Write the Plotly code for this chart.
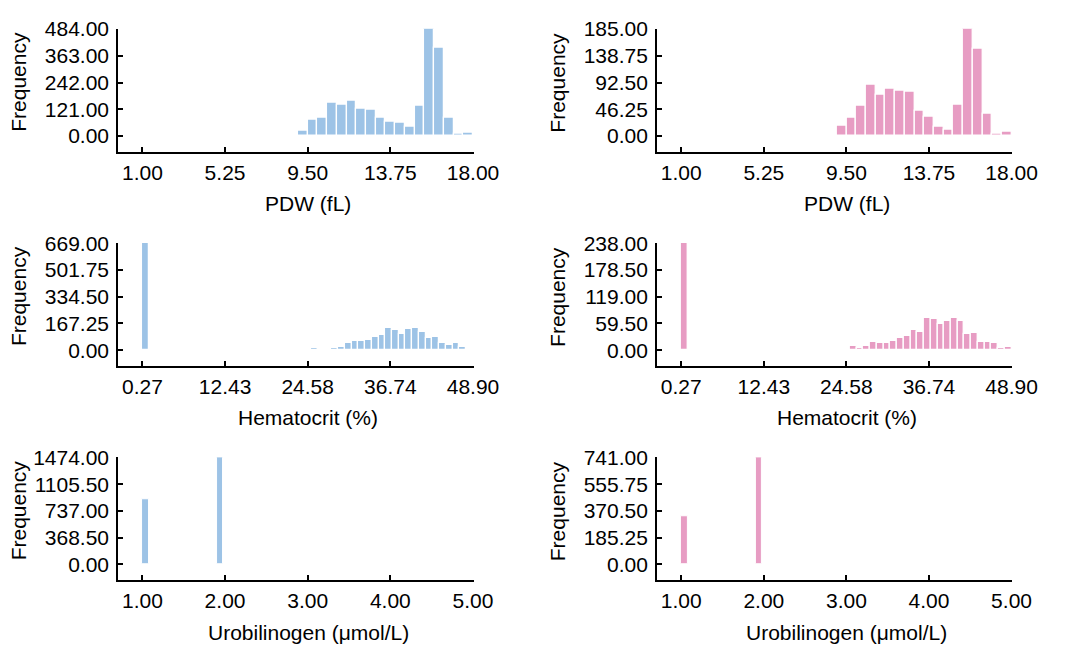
import numpy as np
import plotly.graph_objects as go

W, H = 1067, 645
BLUE = "#9DC3E6"
PINK = "#E79CC3"

# ---------------- data ----------------
# PDW (fL): bins of 0.5 starting at 8.5
pdw_bin_left = [8.5, 9.0, 9.5, 10.0, 10.5, 11.0, 11.5, 12.0, 12.5, 13.0,
                13.5, 14.0, 14.5, 15.0, 15.5, 16.0, 16.5, 17.0, 17.5]
pdw_bin_width = 0.5
pdw_blue = [0, 24, 74, 84, 149, 142, 159, 124, 117, 84, 63, 60, 41, 136, 484, 400, 84, 9, 13]
pdw_pink = [1, 17, 31, 52, 88, 71, 82, 79, 77, 43, 34, 16, 11, 54, 185, 151, 39, 3, 7]
pdw_ticks = [1.00, 5.25, 9.50, 13.75, 18.00]
pdw_ticktext = ["1.00", "5.25", "9.50", "13.75", "18.00"]

# Hematocrit (%): 49 bins from 0.27 to 48.90
hct_min, hct_max, hct_nbins = 0.27, 48.90, 49
hct_blue = [669] + [0] * 24 + [12, 6, 6, 12, 20, 42, 56, 60, 66, 84, 98, 139,
                                127, 104, 133, 137, 112, 78, 82, 44, 30, 42, 18, 4]
hct_pink = [238] + [0] * 24 + [9, 4, 10, 19, 15, 15, 21, 27, 32, 44, 41, 71,
                                69, 59, 64, 71, 66, 36, 39, 19, 19, 16, 6, 8]
hct_ticks = [0.27, 12.4275, 24.585, 36.7425, 48.90]
hct_ticktext = ["0.27", "12.43", "24.58", "36.74", "48.90"]

# Urobilinogen (umol/L): 49 bins from 1 to 5, only two populated
uro_min, uro_max, uro_nbins = 1.0, 5.0, 49
uro_bin_index = [0, 11]
uro_blue = [903, 1474]
uro_pink = [336, 741]
uro_ticks = [1.00, 2.00, 3.00, 4.00, 5.00]
uro_ticktext = ["1.00", "2.00", "3.00", "4.00", "5.00"]

y_ticks_text = {
    "pdw_blue": ["0.00", "121.00", "242.00", "363.00", "484.00"],
    "pdw_pink": ["0.00", "46.25", "92.50", "138.75", "185.00"],
    "hct_blue": ["0.00", "167.25", "334.50", "501.75", "669.00"],
    "hct_pink": ["0.00", "59.50", "119.00", "178.50", "238.00"],
    "uro_blue": ["0.00", "368.50", "737.00", "1105.50", "1474.00"],
    "uro_pink": ["0.00", "185.25", "370.50", "555.75", "741.00"],
}
x_titles = ["PDW (fL)", "Hematocrit (%)", "Urobilinogen (μmol/L)"]

# ---------------- layout helpers ----------------
FONT = "Liberation Sans, Arial, sans-serif"
FS = 21
TICKFONT = dict(family=FONT, size=FS, color="black")

# panel boxes in pixels (left, right) / (top, bottom)
cols = [(121, 485.5), (673.3, 1037.5)]
rows = [(18, 143), (236, 361), (454, 579)]


def px_x(p):
    return p / W


def px_y(p):
    return 1 - p / H


fig = go.Figure()

hct_edges = np.linspace(hct_min, hct_max, hct_nbins + 1)
hct_w = (hct_max - hct_min) / hct_nbins
hct_centers = (hct_edges[:-1] + hct_edges[1:]) / 2
uro_w = (uro_max - uro_min) / uro_nbins
uro_centers = [uro_min + (i + 0.5) * uro_w for i in uro_bin_index]
pdw_centers = [b + pdw_bin_width / 2 for b in pdw_bin_left]

panels = [
    (0, 0, pdw_centers, pdw_blue, pdw_bin_width, BLUE, pdw_ticks, pdw_ticktext, 1.0, 18.0, "pdw_blue", 1.3),
    (0, 1, pdw_centers, pdw_pink, pdw_bin_width, PINK, pdw_ticks, pdw_ticktext, 1.0, 18.0, "pdw_pink", 1.3),
    (1, 0, list(hct_centers), hct_blue, hct_w, BLUE, hct_ticks, hct_ticktext, hct_min, hct_max, "hct_blue", 1.3),
    (1, 1, list(hct_centers), hct_pink, hct_w, PINK, hct_ticks, hct_ticktext, hct_min, hct_max, "hct_pink", 1.3),
    (2, 0, uro_centers, uro_blue, uro_w, BLUE, uro_ticks, uro_ticktext, uro_min, uro_max, "uro_blue", 1.0),
    (2, 1, uro_centers, uro_pink, uro_w, PINK, uro_ticks, uro_ticktext, uro_min, uro_max, "uro_pink", 1.0),
]

annotations = []
for k, (r, c, xs, ys, w, color, xt, xtt, xmin, xmax, ykey, lw) in enumerate(panels):
    idx = "" if k == 0 else str(k + 1)
    xa, ya = "x" + idx, "y" + idx
    fig.add_trace(go.Bar(
        x=xs, y=ys, width=w, xaxis=xa, yaxis=ya,
        marker=dict(color=color, line=dict(color="white", width=lw)),
        showlegend=False, hoverinfo="x+y",
    ))
    ymax = max(ys)
    yt = [ymax * i / 4 for i in range(5)]
    span = xmax - xmin
    (l, rr), (t, b) = cols[c], rows[r]
    data_left_px = 25.0
    x0 = xmin - span * data_left_px / (rr - l - data_left_px)
    y_below_px = 16.0
    y0 = -ymax * y_below_px / (b - t - y_below_px)
    common = dict(showline=True, linecolor="black", linewidth=1.6, showgrid=False,
                  zeroline=False, ticks="inside", ticklen=5, tickwidth=1.6,
                  tickcolor="black", tickfont=TICKFONT, fixedrange=True)
    fig.layout["xaxis" + idx] = dict(
        domain=[px_x(l), px_x(rr)], anchor=ya, range=[x0, xmax + span * 0.002],
        tickvals=xt, ticktext=xtt, ticklabelstandoff=1, **common)
    fig.layout["yaxis" + idx] = dict(
        domain=[px_y(b), px_y(t)], anchor=xa, range=[y0, ymax * 1.004],
        tickvals=yt, ticktext=y_ticks_text[ykey], ticklabelstandoff=3, **common)
    data_x_center = (l + data_left_px + rr) / 2
    annotations.append(dict(
        text=x_titles[r], x=px_x(data_x_center), y=px_y(b + 53), xref="paper", yref="paper",
        showarrow=False, font=dict(family=FONT, size=FS, color="black"),
        xanchor="center", yanchor="middle"))
    annotations.append(dict(
        text="Frequency", x=px_x(l - 102), y=px_y(t + (b - t - y_below_px) / 2),
        xref="paper", yref="paper", textangle=-90,
        showarrow=False, font=dict(family=FONT, size=FS, color="black"),
        xanchor="center", yanchor="middle"))

fig.update_layout(
    width=W, height=H, margin=dict(l=0, r=0, t=0, b=0),
    paper_bgcolor="white", plot_bgcolor="white",
    bargap=0, annotations=annotations,
)

# remove the default page margin so the figure sits at the window's corner
post = ("document.documentElement.style.overflow='hidden';"
        "document.body.style.margin='0';document.body.style.overflow='hidden';")
fig.write_html("out.html", config={"displayModeBar": False}, post_script=post)
